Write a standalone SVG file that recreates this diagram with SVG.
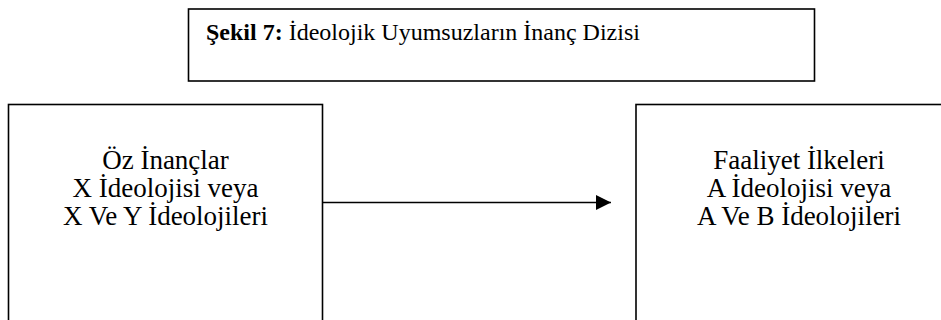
<svg xmlns="http://www.w3.org/2000/svg" width="941" height="320" viewBox="0 0 941 320">
<defs>
<style>
.box{fill:#fff;stroke:#000;stroke-width:1.6}
.t{font-family:"Liberation Serif","Times New Roman",serif;font-size:27px;fill:#000}
.h{font-family:"Liberation Serif","Times New Roman",serif;font-size:24px;fill:#000}
.c{text-anchor:middle}
.b{font-weight:bold}
</style>
<marker id="ah" markerWidth="16" markerHeight="16" refX="15" refY="7.5" orient="auto" markerUnits="userSpaceOnUse">
<path d="M0,0 L15,7.5 L0,15 Z" fill="#000"/>
</marker>
</defs>
<rect width="941" height="320" fill="#fff"/>
<g id="title">
<rect class="box" x="188.5" y="9" width="626" height="72"/>
<text class="h" x="206" y="40"><tspan class="b">Şekil 7:</tspan> İdeolojik Uyumsuzların İnanç Dizisi</text>
</g>
<g id="node-left">
<rect class="box" x="8.5" y="104.5" width="314" height="230"/>
<text class="t c" x="165.5" y="169">Öz İnançlar</text>
<text class="t c" x="165.5" y="197">X İdeolojisi veya</text>
<text class="t c" x="165.5" y="225">X Ve Y İdeolojileri</text>
</g>
<g id="node-right">
<rect class="box" x="636" y="104.5" width="326" height="230"/>
<text class="t c" x="799" y="169">Faaliyet İlkeleri</text>
<text class="t c" x="799" y="197">A İdeolojisi veya</text>
<text class="t c" x="799" y="225">A Ve B İdeolojileri</text>
</g>
<g id="connectors">
<line x1="322.5" y1="202.5" x2="611" y2="202.5" stroke="#000" stroke-width="1.6" marker-end="url(#ah)"/>
</g>
</svg>
